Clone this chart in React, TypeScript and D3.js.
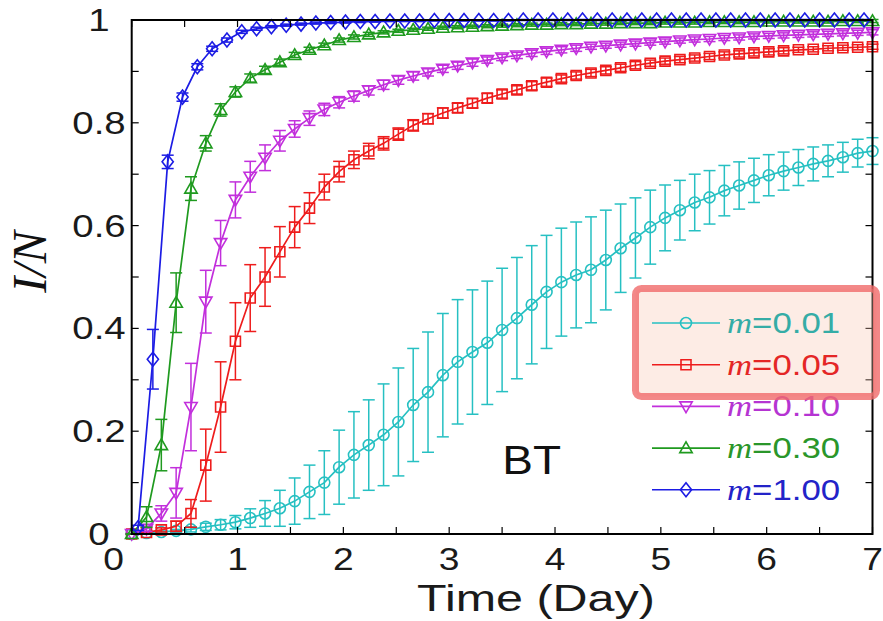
import React from 'react';
import * as d3 from 'd3';

// ---------- data ----------
const timeGrid = [0,0.14,0.28,0.42,0.56,0.7,0.84,0.98,1.12,1.26,1.4,1.54,1.68,1.82,1.96,2.1,2.24,2.38,2.52,2.66,2.8,2.94,3.08,3.22,3.36,3.5,3.64,3.78,3.92,4.06,4.2,4.34,4.48,4.62,4.76,4.9,5.04,5.18,5.32,5.46,5.6,5.74,5.88,6.02,6.16,6.3,6.44,6.58,6.72,6.86,7.0];

const cyanMean = [0,0.002,0.004,0.006,0.009,0.014,0.018,0.023,0.031,0.040,0.050,0.064,0.082,0.100,0.130,0.154,0.173,0.193,0.218,0.251,0.276,0.309,0.335,0.354,0.372,0.397,0.420,0.446,0.471,0.490,0.504,0.514,0.533,0.556,0.576,0.597,0.615,0.630,0.645,0.655,0.668,0.678,0.688,0.698,0.706,0.713,0.720,0.726,0.733,0.741,0.745];
const cyanErr = [0,0.001,0.002,0.003,0.005,0.007,0.010,0.013,0.018,0.025,0.035,0.045,0.052,0.062,0.072,0.084,0.088,0.099,0.105,0.110,0.117,0.120,0.121,0.121,0.120,0.120,0.118,0.115,0.110,0.105,0.103,0.103,0.097,0.086,0.078,0.072,0.064,0.058,0.055,0.052,0.049,0.046,0.043,0.040,0.037,0.035,0.033,0.031,0.029,0.027,0.026];

const redMean = [0,0.003,0.008,0.015,0.040,0.134,0.247,0.375,0.459,0.500,0.549,0.597,0.634,0.675,0.705,0.728,0.745,0.760,0.778,0.795,0.808,0.819,0.829,0.838,0.848,0.856,0.864,0.872,0.879,0.886,0.892,0.897,0.902,0.907,0.912,0.916,0.920,0.923,0.926,0.929,0.932,0.934,0.936,0.938,0.940,0.942,0.943,0.945,0.946,0.947,0.948];
const redErr = [0,0.002,0.004,0.010,0.027,0.070,0.088,0.075,0.065,0.057,0.049,0.040,0.030,0.025,0.020,0.017,0.015,0.013,0.012,0.011,0.010,0.010,0.009,0.009,0.009,0.008,0.008,0.008,0.008,0.007,0.007,0.007,0.007,0.007,0.007,0.006,0.006,0.006,0.006,0.006,0.006,0.006,0.006,0.006,0.006,0.005,0.005,0.005,0.005,0.005,0.005];

const magentaMean = [0,0.010,0.040,0.080,0.247,0.452,0.566,0.650,0.695,0.732,0.765,0.788,0.809,0.826,0.840,0.852,0.863,0.874,0.883,0.891,0.898,0.905,0.911,0.917,0.922,0.927,0.931,0.935,0.939,0.942,0.945,0.948,0.950,0.952,0.954,0.956,0.958,0.960,0.962,0.963,0.965,0.966,0.968,0.969,0.970,0.971,0.972,0.973,0.974,0.975,0.976];
const magentaErr = [0,0.005,0.015,0.049,0.085,0.061,0.044,0.035,0.030,0.025,0.020,0.016,0.014,0.012,0.011,0.010,0.009,0.009,0.008,0.008,0.007,0.007,0.007,0.007,0.006,0.006,0.006,0.006,0.006,0.006,0.006,0.005,0.005,0.005,0.005,0.005,0.005,0.005,0.005,0.005,0.005,0.005,0.005,0.005,0.005,0.005,0.005,0.005,0.005,0.005,0.005];

const greenMean = [0,0.033,0.173,0.450,0.672,0.760,0.825,0.860,0.887,0.903,0.918,0.932,0.942,0.951,0.961,0.967,0.972,0.976,0.979,0.981,0.983,0.985,0.986,0.987,0.988,0.989,0.990,0.991,0.991,0.992,0.992,0.993,0.993,0.994,0.994,0.994,0.995,0.995,0.995,0.996,0.996,0.996,0.996,0.997,0.997,0.997,0.997,0.997,0.998,0.998,0.998];
const greenErr = [0,0.020,0.050,0.058,0.023,0.015,0.012,0.010,0.008,0.007,0.006,0.005,0.005,0.004,0.004,0.004,0.004,0.003,0.003,0.003,0.003,0.003,0.003,0.003,0.003,0.003,0.003,0.003,0.003,0.003,0.003,0.003,0.003,0.003,0.003,0.003,0.003,0.003,0.003,0.003,0.003,0.003,0.003,0.003,0.003,0.003,0.003,0.003,0.003,0.003,0.003];

const blueMean = [0.012,0.340,0.724,0.850,0.909,0.944,0.961,0.977,0.983,0.987,0.990,0.992,0.994,0.995,0.996,0.997,0.997,0.998,0.998,0.998,0.999,0.999,0.999,0.999,0.999,0.999,1,1,1,1,1,1,1,1,1,1,1,1,1,1,1,1,1,1,1,1,1,1,1,1];
const blueErr = [0.005,0.058,0.013,0.008,0.006,0.005,0.004,0.003,0.003,0.002,0.002,0.002,0.002,0.002,0.002,0.002,0.001,0.001,0.001,0.001,0.001,0.001,0.001,0.001,0.001,0.001,0.001,0.001,0.001,0.001,0.001,0.001,0.001,0.001,0.001,0.001,0.001,0.001,0.001,0.001,0.001,0.001,0.001,0.001,0.001,0.001,0.001,0.001,0.001,0.001];

const legendLabels = ['0.01', '0.05', '0.10', '0.30', '1.00'];
const timeShifts = [0, 0, 0, 0, 0.06];
const xTickLabels = [0, 1, 2, 3, 4, 5, 6, 7];
const yTickLabels = [0, 0.2, 0.4, 0.6, 0.8, 1];
const xLabel = 'Time (Day)';
const annotation = { text: 'BT', t: 3.78, v: 0.117 };

// ---------- style / layout ----------
const W = 883, H = 621;
const PL = 131.7, PR = 872.5, PT = 20, PB = 534;
const SX = 1.2;
const SANS = '"Liberation Sans", Arial, Helvetica, sans-serif';
const SERIF = '"Liberation Serif", "Times New Roman", serif';
const COLORS = ['#26c0c2', '#ee1c1c', '#c22fdc', '#1f9a1f', '#1c1ce4'];
const TEXT_COLORS = ['#35aca6', '#e42626', '#b534d2', '#2a962a', '#2323c8'];
const MARKERS = ['circle', 'square', 'triDown', 'triUp', 'diamond'];

const series = [
  { mean: cyanMean, err: cyanErr },
  { mean: redMean, err: redErr },
  { mean: magentaMean, err: magentaErr },
  { mean: greenMean, err: greenErr },
  { mean: blueMean, err: blueErr },
].map((s, i) => ({
  ...s,
  label: legendLabels[i],
  color: COLORS[i],
  textColor: TEXT_COLORS[i],
  marker: MARKERS[i],
  points: s.mean.map((v, k) => ({ t: timeGrid[k] + timeShifts[i], v, e: s.err[k] })),
}));

function Marker({ type, cx, cy, color }: { type: string; cx: number; cy: number; color: string }) {
  const common = { fill: 'none', stroke: color, strokeWidth: 1.6 };
  if (type === 'circle') return <circle cx={cx} cy={cy} r={5.5} {...common} />;
  let d = '';
  if (type === 'square') d = 'M-5,-5h10v10h-10z';
  if (type === 'triDown') d = 'M-6.2,-4.5L6.2,-4.5L0,6.2Z';
  if (type === 'triUp') d = 'M-6.2,4.5L6.2,4.5L0,-6.2Z';
  if (type === 'diamond') d = 'M0,-7L5.6,0L0,7L-5.6,0Z';
  return <path d={d} transform={`translate(${cx},${cy})`} {...common} />;
}

function SText({ x, y, anchor = 'start', size, family = SANS, fill = '#111', sx = SX, children }: any) {
  return (
    <text transform={`translate(${x},${y}) scale(${sx},1)`} textAnchor={anchor} fontSize={size} fontFamily={family} fill={fill}>
      {children}
    </text>
  );
}

export default function App() {
  const x = d3.scaleLinear().domain([0, 7]).range([PL, PR]);
  const y = d3.scaleLinear().domain([0, 1]).range([PB, PT]);
  const line = d3.line<any>().x((d) => x(d.t)).y((d) => y(d.v));
  const xMinor = x.ticks(14);
  const yMinor = y.ticks(10);
  const TL = 7;
  const cap = 6;

  const legTop = 323, legStep = 41.7, legX0 = 652, legX1 = 720, legText = 727;

  return (
    <svg width={W} height={H} style={{ position: 'absolute', left: 0, top: 0, display: 'block', background: '#fff' }}>
      {/* series */}
      {series.map((s, i) => (
        <g key={i}>
          {s.points.map((p, k) => (
            <g key={k} stroke={s.color} strokeWidth={1.5}>
              <line x1={x(p.t)} x2={x(p.t)} y1={y(p.v - p.e)} y2={y(p.v + p.e)} />
              <line x1={x(p.t) - cap} x2={x(p.t) + cap} y1={y(p.v - p.e)} y2={y(p.v - p.e)} />
              <line x1={x(p.t) - cap} x2={x(p.t) + cap} y1={y(p.v + p.e)} y2={y(p.v + p.e)} />
            </g>
          ))}
          <path d={line(s.points) || ''} fill="none" stroke={s.color} strokeWidth={1.7} />
          {s.points.map((p, k) => (
            <Marker key={k} type={s.marker} cx={x(p.t)} cy={y(p.v)} color={s.color} />
          ))}
        </g>
      ))}

      {/* ticks */}
      <g stroke="#000" strokeWidth={1.2}>
        {xMinor.map((t) => (
          <g key={'x' + t}>
            <line x1={x(t)} x2={x(t)} y1={PB} y2={PB - TL} />
            <line x1={x(t)} x2={x(t)} y1={PT} y2={PT + TL} />
          </g>
        ))}
        {yMinor.map((v) => (
          <g key={'y' + v}>
            <line x1={PL} x2={PL + TL} y1={y(v)} y2={y(v)} />
            <line x1={PR} x2={PR - TL} y1={y(v)} y2={y(v)} />
          </g>
        ))}
      </g>
      <rect x={PL} y={PT} width={PR - PL} height={PB - PT} fill="none" stroke="#000" strokeWidth={2} />

      {/* tick labels */}
      {xTickLabels.map((t) => (
        <SText key={'xl' + t} x={x(t) + (t === 0 ? -18 : 0)} y={570} anchor="middle" size={31} fill="#1a1a1a">
          {String(t)}
        </SText>
      ))}
      {yTickLabels.map((v) => (
        <SText key={'yl' + v} x={99} y={y(v) + 11} anchor="middle" size={32} fill="#1a1a1a">
          {d3.format('~g')(v)}
        </SText>
      ))}

      {/* axis titles */}
      <SText x={536} y={611} anchor="middle" size={37} sx={1.31} fill="#1a1a1a">{xLabel}</SText>
      <text transform={`translate(46,262) rotate(-90)`} textAnchor="middle" fontSize={48} fontFamily={SERIF} fontStyle="italic" fill="#111">
        I/N
      </text>

      {/* annotation */}
      <SText x={x(annotation.t)} y={y(annotation.v)} anchor="middle" size={40} sx={1.15} fill="#111">{annotation.text}</SText>

      {/* highlight box fill */}
      <rect x={635.5} y={288.5} width={241} height={108} rx={6} fill="#f9c8b4" fillOpacity={0.35} />

      {/* legend */}
      {series.map((s, i) => {
        const cy = legTop + i * legStep;
        return (
          <g key={'leg' + i}>
            <line x1={legX0} x2={legX1} y1={cy} y2={cy} stroke={s.color} strokeWidth={1.6} />
            <Marker type={s.marker} cx={(legX0 + legX1) / 2} cy={cy} color={s.color} />
            <text transform={`translate(${legText},${cy + 10}) scale(${SX},1)`} fontSize={29} fill={s.textColor}>
              <tspan fontFamily={SERIF} fontStyle="italic">m</tspan>
              <tspan fontFamily={SANS}>={s.label}</tspan>
            </text>
          </g>
        );
      })}

      {/* highlight box stroke */}
      <rect x={635.5} y={288.5} width={241} height={108} rx={6} fill="none" stroke="#f06a6a" strokeOpacity={0.8} strokeWidth={7} />
    </svg>
  );
}
